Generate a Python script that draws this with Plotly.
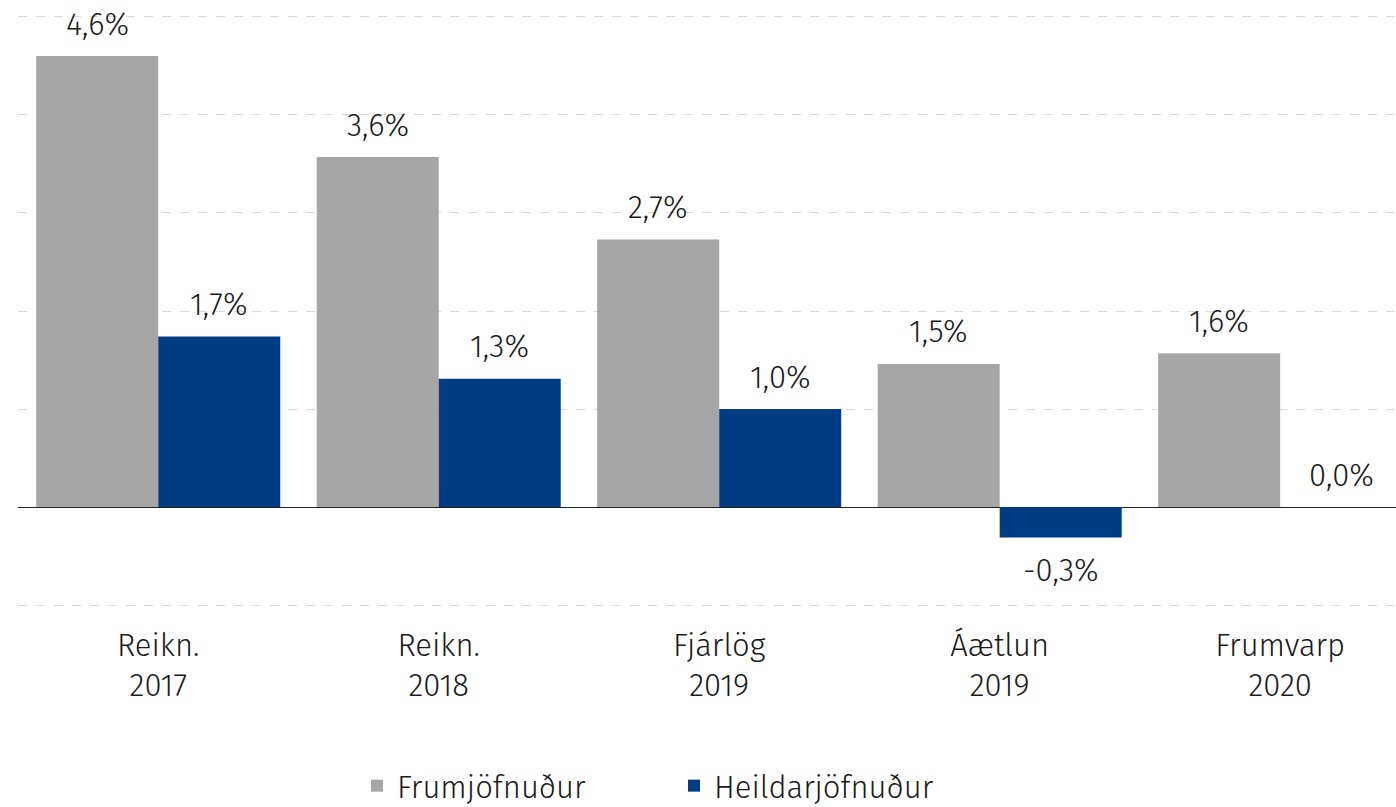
import plotly.graph_objects as go

categories = ["Reikn.<br>2017", "Reikn.<br>2018", "Fjárlög<br>2019", "Áætlun<br>2019", "Frumvarp<br>2020"]
frum = [4.60, 3.57, 2.73, 1.46, 1.57]
heild = [1.74, 1.31, 1.00, -0.31, 0.0]
series_names = ["Frumjöfnuður", "Heildarjöfnuður"]
colors = ["#a6a6a6", "#003c84"]

FONT = "Fira Sans, Open Sans, sans-serif"
TXT = "#1a1a1a"

fig = go.Figure()
for name, vals, col in zip(series_names, [frum, heild], colors):
    fig.add_trace(go.Bar(x=categories, y=vals, name=name, marker_color=col,
                         marker_line_width=0))

def fmt(v):
    return f"{v:.1f}".replace(".", ",") + "%"

for vals, xs in [(frum, -61), (heild, 61)]:
    for c, v in zip(categories, vals):
        fig.add_annotation(x=c, y=v, text=fmt(v), showarrow=False,
                           xshift=xs, yshift=(32 if v >= 0 else -33),
                           font=dict(size=31, color=TXT, family=FONT, weight=300))

fig.update_layout(
    width=1396, height=807,
    margin=dict(l=18, r=0, t=12, b=197, autoexpand=False),
    plot_bgcolor="white", paper_bgcolor="white",
    barmode="group", bargap=0.13, bargroupgap=0,
    font=dict(family=FONT, color=TXT, weight=300),
    legend=dict(orientation="h", xref="container", yref="container",
                x=357 / 1396, xanchor="left", y=(807 - 786) / 807, yanchor="middle",
                font=dict(size=31, weight=300), traceorder="normal",
                entrywidth=272),
    xaxis=dict(range=[-0.5, 4.413], tickfont=dict(size=31, weight=300), showgrid=False,
               ticks="", showline=False, ticklabelstandoff=14),
    yaxis=dict(range=[-1.05, 5.05], dtick=1, showticklabels=False, showgrid=True,
               gridcolor="#d9d9d9", griddash="dash", gridwidth=1,
               zeroline=True, zerolinecolor="#222222", zerolinewidth=1.3,
               showline=False),
)

fig.write_html("out.html", config={"displayModeBar": False},
               post_script="document.body.style.margin='0';")
